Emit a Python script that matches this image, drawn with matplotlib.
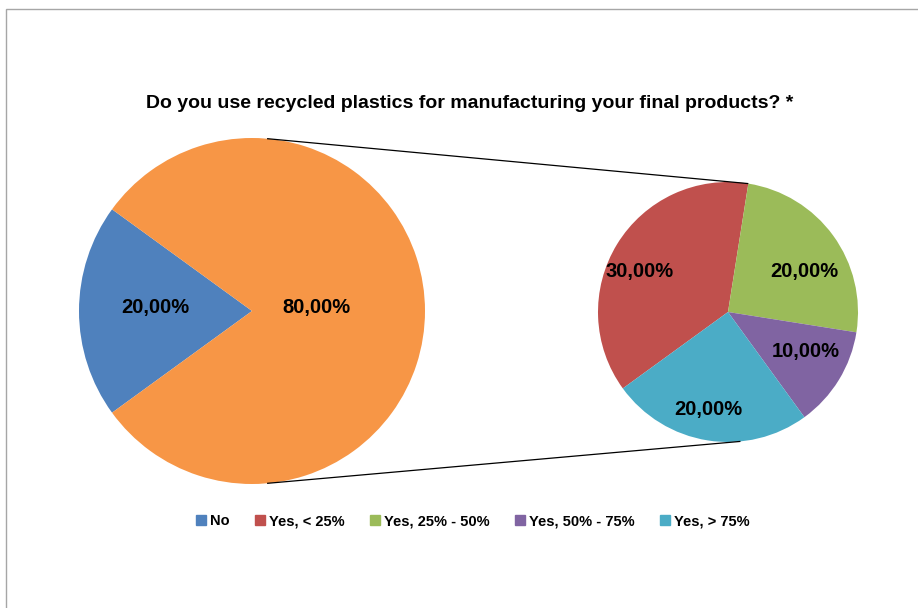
import numpy as np
import matplotlib
matplotlib.use("Agg")
import matplotlib.pyplot as plt
from matplotlib.patches import Patch, Rectangle
from matplotlib import font_manager

# pick a narrow bold sans if present
_names = {f.name for f in font_manager.fontManager.ttflist}
FONT = next((n for n in ["Liberation Sans Narrow", "Liberation Sans", "DejaVu Sans"] if n in _names), "DejaVu Sans")

title = "Do you use recycled plastics for manufacturing your final products? *"

# main pie: "No" versus all "Yes" answers combined
main_labels = ["No", "Yes"]
main_values = [20.0, 80.0]
main_colors = ["#4F81BD", "#F79646"]

# breakdown of the "Yes" answers (percent of all respondents)
sub_labels = ["Yes, < 25%", "Yes, 25% - 50%", "Yes, 50% - 75%", "Yes, > 75%"]
sub_values = [30.0, 20.0, 10.0, 20.0]
sub_colors = ["#C0504D", "#9BBB59", "#8064A2", "#4BACC6"]

W, H = 918, 608
fig = plt.figure(figsize=(W / 100, H / 100), dpi=100)
ax = fig.add_axes([0, 0, 1, 1])

# chart frame
ax.add_patch(Rectangle((5.5, -5), W, H - 8.5 + 5, fill=False, ec="#A6A6A6", lw=1.0))

fmt = lambda v: f"{v:.2f}".replace(".", ",") + "%"
LABEL_SIZE = 14.5

# left pie
c1, r1 = (252, 297), 173
ax.pie(main_values, colors=main_colors, startangle=216, counterclock=False,
       center=c1, radius=r1, frame=True, wedgeprops=dict(linewidth=0))
label_pos1 = [(155, 300), (316, 300)]
for v, (x, y) in zip(main_values, label_pos1):
    ax.text(x, y, fmt(v), ha="center", va="center", fontsize=LABEL_SIZE, fontweight="bold",
            family=FONT, color="black")

# right pie: the breakdown
c2, r2 = (728, 296), 130
ax.pie(sub_values, colors=sub_colors, startangle=216, counterclock=False,
       center=c2, radius=r2, frame=True, wedgeprops=dict(linewidth=0))
label_pos2 = [(640, 336), (804, 336), (806, 256), (708, 199)]
for v, (x, y) in zip(sub_values, label_pos2):
    ax.text(x, y, fmt(v), ha="center", va="center", fontsize=LABEL_SIZE, fontweight="bold",
            family=FONT, color="black")

ax.set_xlim(0, W)
ax.set_ylim(0, H)
ax.set_aspect("equal")
ax.axis("off")

# connector lines between the pies
def on_circle(c, r, deg):
    a = np.deg2rad(deg)
    return c[0] + r * np.cos(a), c[1] + r * np.sin(a)

top_split = 216 - 360 * sub_values[0] / sum(sub_values)  # red/green boundary
for a_left, a_right in [(85, top_split), (-85, -84.5)]:
    p, q = on_circle(c1, r1, a_left), on_circle(c2, r2, a_right)
    ax.plot([p[0], q[0]], [p[1], q[1]], color="black", lw=0.9, solid_capstyle="butt")

ax.text(470, H - 103, title, ha="center", va="center", fontsize=14, fontweight="bold",
        family=FONT, color="black")

handles = [Patch(color=c) for c in [main_colors[0]] + sub_colors]
fig.legend(handles, [main_labels[0]] + sub_labels, loc="center",
           bbox_to_anchor=(473 / W, 1 - 521 / H), ncol=5, frameon=False,
           handlelength=0.7, handleheight=0.7, handletextpad=0.3, columnspacing=1.7,
           prop=dict(family=FONT, weight="bold", size=10.5))

fig.savefig("out.png", dpi=100)
